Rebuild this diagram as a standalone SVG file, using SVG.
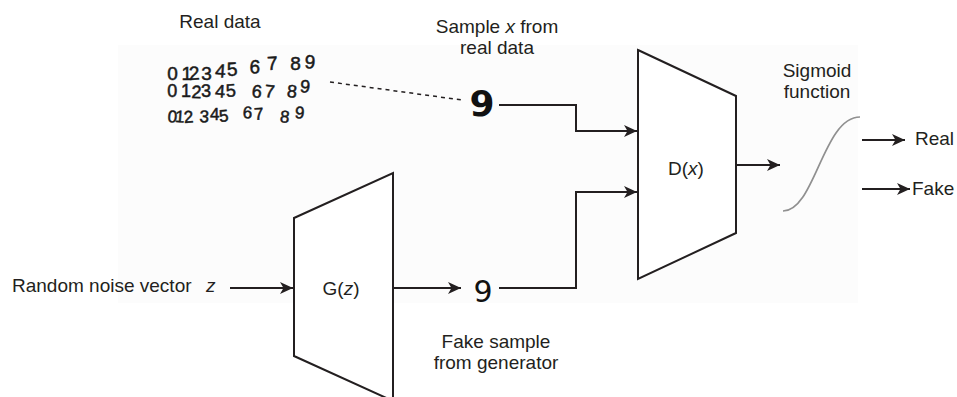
<svg xmlns="http://www.w3.org/2000/svg" width="957" height="397" viewBox="0 0 957 397">
  <style>
    .lbl { font-family: "Liberation Sans", Arial, sans-serif; font-size: 19px; fill: #231f20; }
    .it { font-style: italic; }
    .hand { font-family: "Liberation Sans", "DejaVu Sans", sans-serif; fill: #1a1a1a; stroke: #1a1a1a; stroke-width: 0.5; }
    .big9 { font-family: "DejaVu Sans", "Liberation Sans", sans-serif; fill: #111111; }
    .box { fill: #ffffff; stroke: #231f20; stroke-width: 2; stroke-linejoin: miter; }
    .wire { fill: none; stroke: #231f20; stroke-width: 2; }
    .arr { marker-end: url(#head); }
  </style>
  <defs>
    <marker id="head" markerUnits="userSpaceOnUse" markerWidth="16" markerHeight="14" refX="13" refY="7" orient="auto">
      <path d="M0,1 L13,7 L0,13 L3.5,7 Z" fill="#231f20"/>
    </marker>
  </defs>

  <rect width="957" height="397" fill="#ffffff"/>
  <rect x="118" y="45" width="740" height="258" fill="#fcfcfc"/>

  <!-- titles -->
  <text class="lbl" x="220" y="28" text-anchor="middle">Real data</text>

  <!-- handwritten digit samples, one row per text run -->
  <g id="real-data">
    <text class="hand" font-size="19" x="167.2" y="80"
          dx="0 3.83 -2.97 1.43 3.03 1.83 11.43 7.43 12.43 3.43"
          dy="0 0 0 0 -3 -1 -3 -3 0 -2"
          rotate="0 0 -3 0 4 -3 3 -2 0 4">0123456789</text>
    <text class="hand" font-size="18" x="167.25" y="97"
          dx="0 3.65 0.35 0 3.55 1.45 15 3 12 3"
          dy="0 0 1 -1 0 0 0 0 0 -5"
          rotate="0 0 2 -2 4 -4 6 5 5 6">0123456789</text>
    <text class="hand" font-size="17" x="167.3" y="122"
          dx="0 -2.05 0.15 5.55 1.05 0.05 13.55 2.55 15.55 5.55"
          dy="0 0 1 -1 -2 2 -4 2 2 -4"
          rotate="5 4 -4 3 0 -5 3 -4 6 5">0123456789</text>
  </g>

  <!-- sample taken from the real data -->
  <g id="real-sample">
    <text class="lbl" x="497" y="33" text-anchor="middle">Sample <tspan class="it">x</tspan> from</text>
    <text class="lbl" x="497" y="54" text-anchor="middle">real data</text>
    <text class="big9" x="482" y="116" font-size="36" font-weight="bold" text-anchor="middle">9</text>
  </g>

  <!-- input noise -->
  <g id="noise">
    <text class="lbl" x="12" y="292">Random noise vector</text>
    <text class="lbl it" x="206" y="292">z</text>
  </g>

  <!-- generator -->
  <g id="generator">
    <polygon class="box" points="294,218 393,173 393,401 294,356"/>
    <text class="lbl" x="341" y="295" text-anchor="middle">G(<tspan class="it">z</tspan>)</text>
  </g>

  <!-- generated sample -->
  <g id="fake-sample">
    <text class="big9" x="483" y="302" font-size="30" text-anchor="middle">9</text>
    <text class="lbl" x="496" y="348" text-anchor="middle">Fake sample</text>
    <text class="lbl" x="496" y="369" text-anchor="middle">from generator</text>
  </g>

  <!-- discriminator -->
  <g id="discriminator">
    <polygon class="box" points="638,50 736,96 736,233 638,279"/>
    <text class="lbl" x="686" y="175" text-anchor="middle">D(<tspan class="it">x</tspan>)</text>
  </g>

  <!-- sigmoid -->
  <g id="sigmoid">
    <text class="lbl" x="817" y="77" text-anchor="middle">Sigmoid</text>
    <text class="lbl" x="817" y="98" text-anchor="middle">function</text>
    <path d="M783,211 C815,211 823,117 860,117" fill="none" stroke="#909090" stroke-width="1.7"/>
  </g>

  <!-- outputs -->
  <g id="out-real">
    <text class="lbl" x="915" y="145">Real</text>
  </g>
  <g id="out-fake">
    <text class="lbl" x="912" y="195">Fake</text>
  </g>

  <!-- connectors -->
  <g id="connectors">
    <line x1="330" y1="82" x2="462" y2="100" stroke="#231f20" stroke-width="1.5" stroke-dasharray="4,4"/>
    <path class="wire arr" d="M499,105 H576 V131 H637"/>
    <path class="wire arr" d="M499,288 H576 V192 H637"/>
    <path class="wire arr" d="M230,288 H293"/>
    <path class="wire arr" d="M393,288 H461"/>
    <path class="wire arr" d="M736,165 H780"/>
    <path class="wire arr" d="M862,140 H905"/>
    <path class="wire arr" d="M862,189 H910"/>
  </g>
</svg>
